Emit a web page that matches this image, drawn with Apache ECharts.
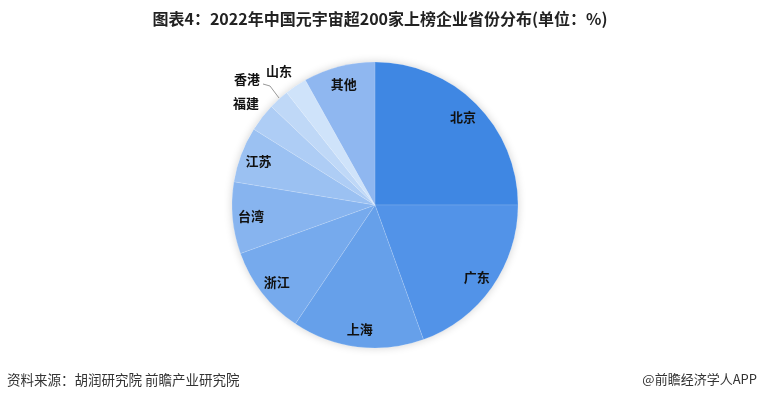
<!DOCTYPE html>
<html>
<head>
<meta charset="utf-8">
<script src="https://cdn.jsdelivr.net/npm/echarts@6/dist/echarts.min.js"></script>
<style>
html,body{margin:0;padding:0;background:#fff;}
#main{width:760px;height:402px;}
</style>
</head>
<body>
<div id="main"></div>
<script>
var categories = ['北京','广东','上海','浙江','台湾','江苏','福建','香港','山东','其他'];
var values = [25, 19.5, 14.9, 10.1, 8.1, 6.3, 3.2, 2.3, 2.5, 8.1];
var colors = ['#3f87e3','#5293e8','#66a0ea','#76aaed','#87b4ef','#9bc1f2','#aecdf5','#bfd8f7','#cfe3fa','#8fb7f0'];
var outsideNames = ['福建','香港','山东'];
var titleText = '图表4：2022年中国元宇宙超200家上榜企业省份分布(单位：%)';
var sourceText = '资料来源：胡润研究院 前瞻产业研究院';
var brandText = '@前瞻经济学人APP';

var FONT = '"Noto Sans CJK SC", "Noto Sans", sans-serif';
var labelStyle = {color:'#111', fontSize:13, fontWeight:'bold', fontFamily:FONT};

var total = values.reduce(function(a,b){return a+b;},0);

var mainData = categories.map(function(n,i){
  var isOut = outsideNames.indexOf(n) >= 0;
  return {
    name:n, value:values[i],
    itemStyle:{color:colors[i]},
    label:{show:isOut},
    labelLine:{show:n==='香港', lineStyle:{color:'#999', width:1}}
  };
});
var ringData = categories.map(function(n,i){
  var isOut = outsideNames.indexOf(n) >= 0;
  return {name:n, value:values[i], label:{show:!isOut}};
});

var outPos = {'山东':[279,71], '香港':[247,79], '福建':[246,103]};

var chart = echarts.init(document.getElementById('main'));
chart.setOption({
  backgroundColor:'#fff',
  animation:false,
  graphic:[
    {type:'text', left:'center', top:11, style:{text:titleText, fill:'#222', font:'bold 16px ' + FONT}},
    {type:'text', left:7, top:373, style:{text:sourceText, fill:'#333', font:'13.5px ' + FONT}},
    {type:'text', right:3, top:373, style:{text:brandText, fill:'#333', font:'13px ' + FONT}}
  ],
  series:[
    {
      type:'pie', center:[375,205], radius:[0,143], z:1, silent:true,
      data:[{name:'shadow', value:total}],
      itemStyle:{color:'#fff', shadowBlur:8, shadowColor:'rgba(0,0,0,0.18)'},
      label:{show:false}, labelLine:{show:false},
      emphasis:{disabled:true}
    },
    {
      type:'pie', center:[375,205], radius:[0,143], startAngle:90, clockwise:true, z:2,
      data:mainData,
      itemStyle:{borderColor:'rgba(255,255,255,0.25)', borderWidth:0.5},
      label:Object.assign({position:'outside'}, labelStyle),
      labelLine:{length:8, length2:6},
      labelLayout:function(p){
        var pos = outPos[p.text];
        if(!pos) return {};
        var o = {x:pos[0], y:pos[1], align:'center', verticalAlign:'middle'};
        if(p.text==='香港'){
          o.labelLinePoints = [[279,98],[270,86],[263,84]];
        }
        return o;
      },
      emphasis:{disabled:true}
    },
    {
      type:'pie', center:[375,205], radius:[100,143], startAngle:90, clockwise:true, z:3,
      silent:true,
      data:ringData,
      itemStyle:{color:'rgba(0,0,0,0)'},
      label:Object.assign({position:'inside'}, labelStyle),
      labelLine:{show:false},
      emphasis:{disabled:true}
    }
  ]
});
</script>
</body>
</html>
